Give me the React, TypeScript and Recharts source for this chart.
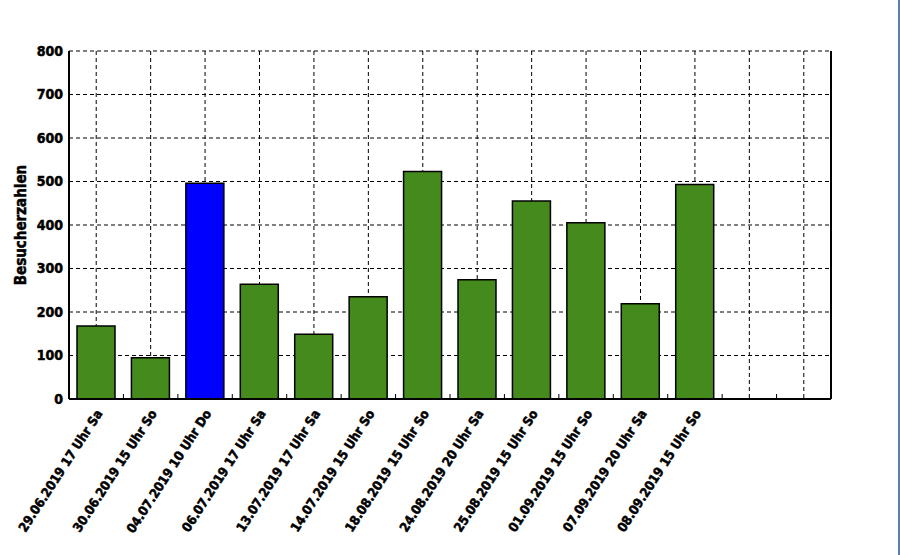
import React from "react";
import { BarChart, Bar, XAxis, YAxis, CartesianGrid, Cell } from "recharts";

const categories = [
  "29.06.2019 17 Uhr Sa",
  "30.06.2019 15 Uhr So",
  "04.07.2019 10 Uhr Do",
  "06.07.2019 17 Uhr Sa",
  "13.07.2019 17 Uhr Sa",
  "14.07.2019 15 Uhr So",
  "18.08.2019 15 Uhr So",
  "24.08.2019 20 Uhr Sa",
  "25.08.2019 15 Uhr So",
  "01.09.2019 15 Uhr So",
  "07.09.2019 20 Uhr Sa",
  "08.09.2019 15 Uhr So",
  "",
  " ",
];
const visitors: (number | null)[] = [168, 95, 496, 264, 149, 235, 523, 274, 455, 405, 219, 493, null, null];
const highlighted = [false, false, true, false, false, false, false, false, false, false, false, false, false, false];
const yTicks = [0, 100, 200, 300, 400, 500, 600, 700, 800];
const boundaryTicks = [1, 2, 3, 4, 5, 6, 7, 8, 9, 10, 11, 12, 13];

const data = categories.map((c, i) => ({ name: c, value: visitors[i], pos: i + 0.5 }));

const FONT = "'DejaVu Sans Condensed', 'Liberation Sans Narrow', sans-serif";

const XTick = (props: any) => {
  const { x, y, payload } = props;
  return (
    <g transform={`translate(${x + 3},${y + 4}) rotate(-57)`}>
      <text
        x={0}
        y={0}
        dy="0.35em"
        textAnchor="end"
        fontFamily={FONT}
        fontWeight="bold"
        fontSize={13}
        fill="#000"
        stroke="#000"
        strokeWidth={0.5}
      >
        {payload.value}
      </text>
    </g>
  );
};

const EmptyTick = () => <g />;

const YLabel = (props: any) => {
  const vb = props.viewBox || {};
  const cx = 21;
  const cy = (vb.y ?? 51) + (vb.height ?? 347) / 2;
  return (
    <text
      x={cx}
      y={cy}
      transform={`rotate(-90, ${cx}, ${cy})`}
      textAnchor="middle"
      dominantBaseline="central"
      fontFamily={FONT}
      fontWeight="bold"
      fontSize={15}
      fill="#000"
      stroke="#000"
      strokeWidth={0.5}
    >
      Besucherzahlen
    </text>
  );
};

export default function App() {
  return (
    <div style={{ position: "absolute", left: 0, top: 0, width: 900, height: 555, background: "#fff" }}>
      <BarChart
        width={900}
        height={555}
        data={data}
        margin={{ top: 51, right: 68, bottom: 6, left: 19 }}
        barSize={38}
      >
        <CartesianGrid
          xAxisId="cat"
          stroke="#000"
          strokeDasharray="4 3"
          strokeWidth={1}
        />
        <XAxis
          xAxisId="b"
          dataKey="pos"
          type="number"
          domain={[0, 14]}
          ticks={boundaryTicks}
          height={1}
          mirror
          axisLine={false}
          tickLine={{ stroke: "#000", strokeWidth: 1 }}
          tickSize={5}
          tick={<EmptyTick />}
        />
        <XAxis
          xAxisId="cat"
          dataKey="name"
          interval={0}
          height={150}
          axisLine={{ stroke: "#000", strokeWidth: 2 }}
          tickLine={false}
          tick={<XTick />}
        />
        <YAxis
          domain={[0, 800]}
          ticks={yTicks}
          width={50}
          tickSize={0}
          tickMargin={6}
          axisLine={{ stroke: "#000", strokeWidth: 2 }}
          tick={{ fontFamily: FONT, fontWeight: "bold", fontSize: 14, fill: "#000", stroke: "#000", strokeWidth: 0.5 }}
          label={<YLabel />}
        />
        <YAxis
          yAxisId="r"
          orientation="right"
          domain={[0, 800]}
          width={1}
          tick={false}
          tickLine={false}
          axisLine={{ stroke: "#000", strokeWidth: 2 }}
        />
        <Bar
          xAxisId="cat"
          dataKey="value"
          stroke="#000"
          strokeWidth={1.5}
          isAnimationActive={false}
        >
          {data.map((d, i) => (
            <Cell key={i} fill={highlighted[i] ? "#0000ff" : "#458a1c"} />
          ))}
        </Bar>
      </BarChart>
      <div style={{ position: "absolute", left: 898, top: 0, width: 2, height: 555, background: "#5b7fae" }} />
    </div>
  );
}
